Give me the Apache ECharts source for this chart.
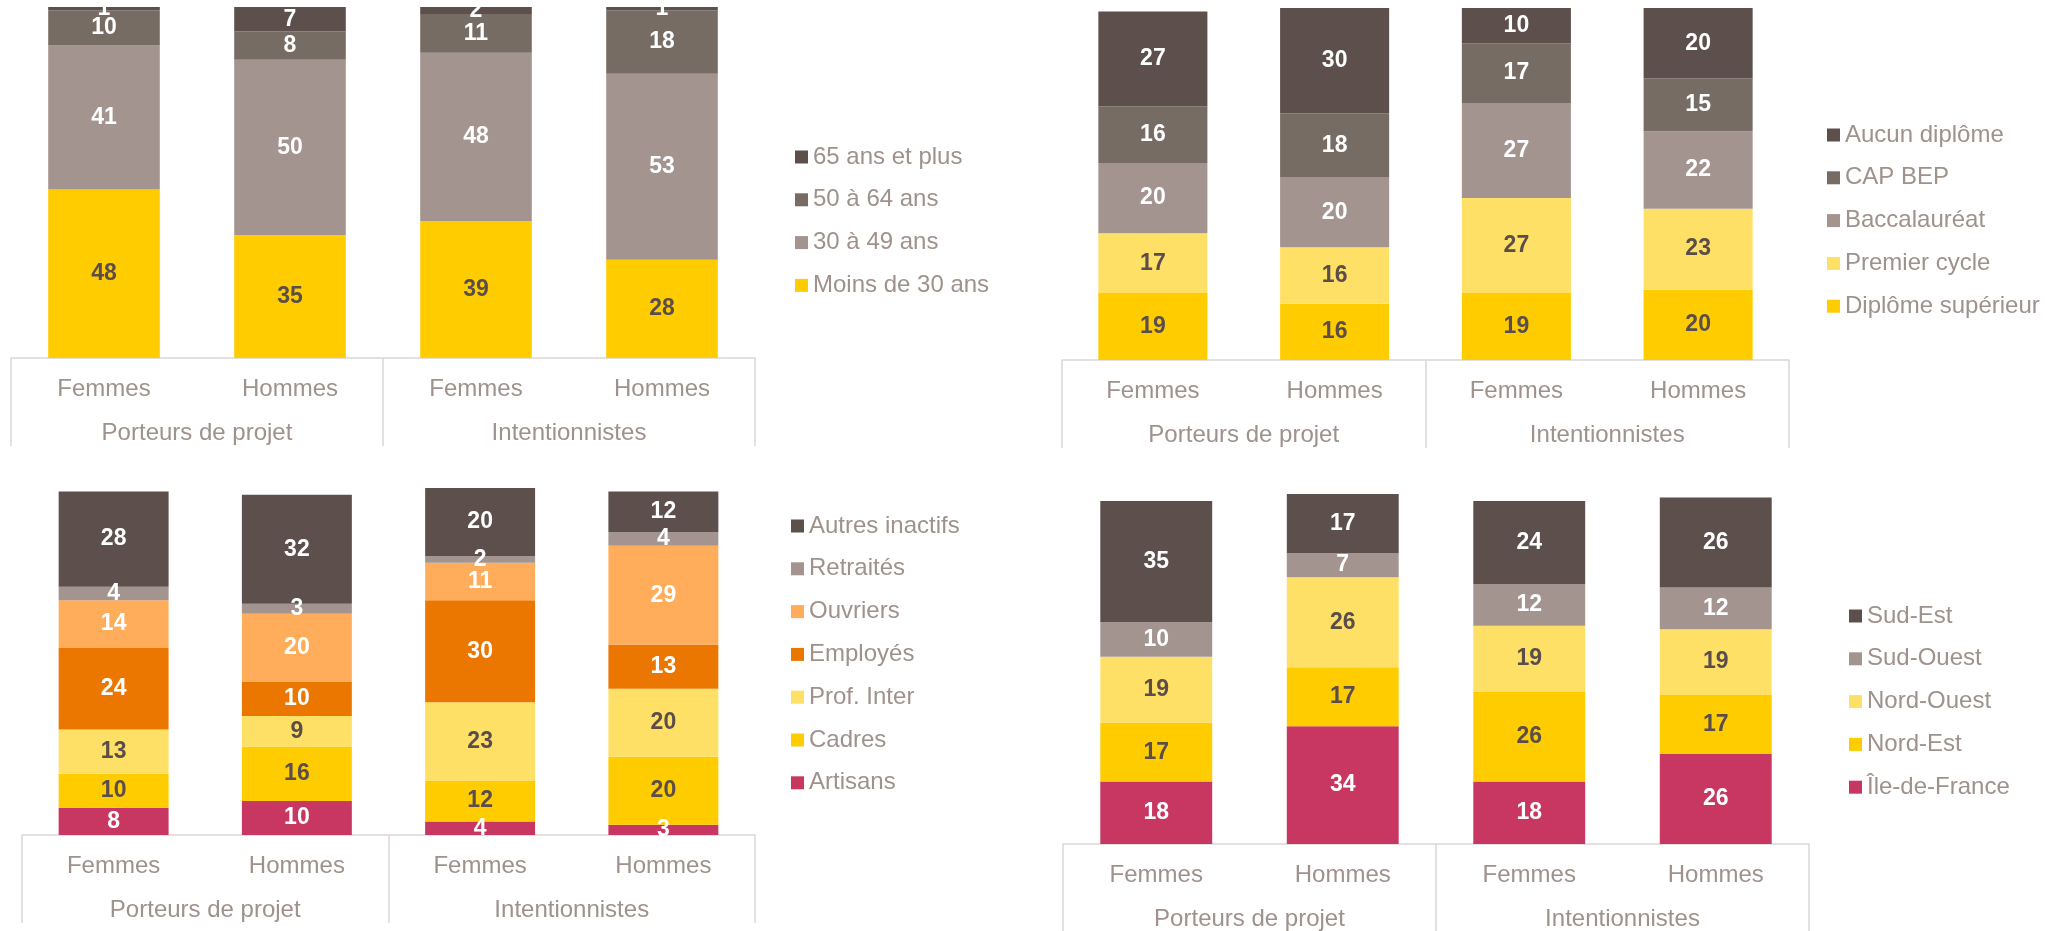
<!DOCTYPE html>
<html>
<head>
<meta charset="utf-8">
<title>Profils des porteurs de projet et intentionnistes</title>
<script src="https://cdn.jsdelivr.net/npm/echarts@6/dist/echarts.min.js"></script>
<style>
  html, body { margin: 0; padding: 0; background: #ffffff; }
  #chart { width: 2045px; height: 931px; }
</style>
</head>
<body>
<div id="chart"></div>
<script>
// ---- Axis categories ----
const categories = ['Femmes', 'Hommes', 'Femmes', 'Hommes'];
const groups = ['Porteurs de projet', 'Intentionnistes'];

// ---- Âge (%) ----
const ageMoins30 = [48, 35, 39, 28];
const age30a49 = [41, 50, 48, 53];
const age50a64 = [10, 8, 11, 18];
const age65plus = [1, 7, 2, 1];

// ---- Diplôme (%) ----
const diplomeSuperieur = [19, 16, 19, 20];
const premierCycle = [17, 16, 27, 23];
const baccalaureat = [20, 20, 27, 22];
const capBep = [16, 18, 17, 15];
const aucunDiplome = [27, 30, 10, 20];

// ---- Catégorie socio-professionnelle (%) ----
const artisans = [8, 10, 4, 3];
const cadres = [10, 16, 12, 20];
const profInter = [13, 9, 23, 20];
const employes = [24, 10, 30, 13];
const ouvriers = [14, 20, 11, 29];
const retraites = [4, 3, 2, 4];
const autresInactifs = [28, 32, 20, 12];

// ---- Région (%) ----
const ileDeFrance = [18, 34, 18, 26];
const nordEst = [17, 17, 26, 17];
const nordOuest = [19, 26, 19, 19];
const sudOuest = [10, 7, 12, 12];
const sudEst = [35, 17, 24, 26];

// ---- Palette ----
const FONT = "'Liberation Sans', Arial, sans-serif";
const TEXT = '#9f918c';
const LINE = '#dcd6d5';
const C_DARK = '#5c4f4c';
const C_TAUPE = '#776c63';
const C_GREY = '#a3948f';
const C_YELLOW = '#ffcc00';
const C_LIGHTYELLOW = '#ffe066';
const C_ORANGE = '#ec7700';
const C_LIGHTORANGE = '#ffad5b';
const C_PINK = '#c83762';
const LBL_DARK = '#5a4d4a';
const LBL_LIGHT = '#ffffff';

// Panels: stacking order is bottom to top
const panels = [
  {
    grid: { left: 11, top: 7, width: 744, height: 351 },
    legend: { left: 795, top: 145 },
    series: [
      ['Moins de 30 ans', ageMoins30, C_YELLOW, LBL_DARK],
      ['30 à 49 ans', age30a49, C_GREY, LBL_LIGHT],
      ['50 à 64 ans', age50a64, C_TAUPE, LBL_LIGHT],
      ['65 ans et plus', age65plus, C_DARK, LBL_LIGHT]
    ]
  },
  {
    grid: { left: 1062, top: 8, width: 727, height: 352 },
    legend: { left: 1827, top: 123 },
    series: [
      ['Diplôme supérieur', diplomeSuperieur, C_YELLOW, LBL_DARK],
      ['Premier cycle', premierCycle, C_LIGHTYELLOW, LBL_DARK],
      ['Baccalauréat', baccalaureat, C_GREY, LBL_LIGHT],
      ['CAP BEP', capBep, C_TAUPE, LBL_LIGHT],
      ['Aucun diplôme', aucunDiplome, C_DARK, LBL_LIGHT]
    ]
  },
  {
    grid: { left: 22, top: 488, width: 733, height: 347 },
    legend: { left: 791, top: 514 },
    series: [
      ['Artisans', artisans, C_PINK, LBL_LIGHT],
      ['Cadres', cadres, C_YELLOW, LBL_DARK],
      ['Prof. Inter', profInter, C_LIGHTYELLOW, LBL_DARK],
      ['Employés', employes, C_ORANGE, LBL_LIGHT],
      ['Ouvriers', ouvriers, C_LIGHTORANGE, LBL_LIGHT],
      ['Retraités', retraites, C_GREY, LBL_LIGHT],
      ['Autres inactifs', autresInactifs, C_DARK, LBL_LIGHT]
    ]
  },
  {
    grid: { left: 1063, top: 494, width: 746, height: 354 },
    legend: { left: 1849, top: 604 },
    series: [
      ['Île-de-France', ileDeFrance, C_PINK, LBL_LIGHT],
      ['Nord-Est', nordEst, C_YELLOW, LBL_DARK],
      ['Nord-Ouest', nordOuest, C_LIGHTYELLOW, LBL_DARK],
      ['Sud-Ouest', sudOuest, C_GREY, LBL_LIGHT],
      ['Sud-Est', sudEst, C_DARK, LBL_LIGHT]
    ]
  }
];

const option = {
  animation: false,
  backgroundColor: '#ffffff',
  textStyle: { fontFamily: FONT },
  grid: [],
  xAxis: [],
  yAxis: [],
  legend: [],
  series: []
};

panels.forEach((p, i) => {
  option.grid.push(Object.assign({ containLabel: false }, p.grid));

  // Inner level: Femmes / Hommes
  option.xAxis.push({
    type: 'category',
    gridIndex: i,
    data: categories,
    position: 'bottom',
    axisLine: { show: true, lineStyle: { color: LINE, width: 1.5 } },
    axisTick: { show: false },
    axisLabel: { margin: 19, color: TEXT, fontSize: 24, lineHeight: 24, fontFamily: FONT },
    splitLine: { show: false }
  });
  // Outer level: group names with separators
  option.xAxis.push({
    type: 'category',
    gridIndex: i,
    data: groups,
    position: 'bottom',
    axisLine: { show: false },
    axisTick: { show: true, length: 88, lineStyle: { color: LINE, width: 1.5 } },
    axisLabel: { margin: 63, color: TEXT, fontSize: 24, lineHeight: 24, fontFamily: FONT },
    splitLine: { show: false }
  });
  option.yAxis.push({
    type: 'value',
    gridIndex: i,
    min: 0,
    max: v => v.max,
    show: false,
    splitLine: { show: false }
  });

  option.legend.push({
    orient: 'vertical',
    left: p.legend.left,
    top: p.legend.top,
    padding: 0,
    icon: 'rect',
    itemWidth: 13,
    itemHeight: 13,
    itemGap: 18.8,
    selectedMode: false,
    textStyle: { color: TEXT, fontSize: 24, lineHeight: 24, fontFamily: FONT },
    data: p.series.map(s => s[0]).reverse()
  });

  p.series.forEach(s => {
    option.series.push({
      name: s[0],
      type: 'bar',
      xAxisIndex: i * 2,
      yAxisIndex: i,
      stack: 'panel' + i,
      barWidth: '60%',
      data: s[1],
      itemStyle: { color: s[2] },
      label: {
        show: true,
        position: 'inside',
        color: s[3],
        fontSize: 23,
        fontWeight: 'bold',
        fontFamily: FONT
      },
      emphasis: { disabled: true }
    });
  });
});

const chart = echarts.init(document.getElementById('chart'), null, { renderer: 'canvas' });
chart.setOption(option);
</script>
</body>
</html>
